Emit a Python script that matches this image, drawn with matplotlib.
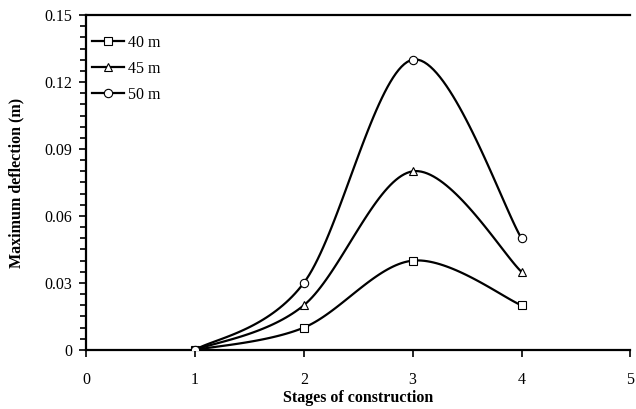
import numpy as np
import matplotlib
matplotlib.use("Agg")
import matplotlib.pyplot as plt
from matplotlib.ticker import MultipleLocator

# stages of construction and max deflection (m) for each span
stages = [1, 2, 3, 4]
d40 = [0.0, 0.010, 0.040, 0.020]
d45 = [0.0, 0.020, 0.080, 0.035]
d50 = [0.0, 0.030, 0.130, 0.050]
yticks = [0, 0.03, 0.06, 0.09, 0.12, 0.15]
ytick_labels = ['0', '0.03', '0.06', '0.09', '0.12', '0.15']

plt.rcParams['font.family'] = ['Liberation Serif', 'DejaVu Serif']
FS = 11.5


def smooth(xs, ys, n=40):
    # Excel-style smoothed line (Bezier through points, tension 1/6)
    pts = np.column_stack([np.asarray(xs, float), np.asarray(ys, float)])
    out = []
    for i in range(len(pts) - 1):
        p0 = pts[max(i - 1, 0)]
        p1 = pts[i]
        p2 = pts[i + 1]
        p3 = pts[min(i + 2, len(pts) - 1)]
        c1 = p1 + (p2 - p0) / 6
        c2 = p2 - (p3 - p1) / 6
        t = np.linspace(0, 1, n)[:, None]
        seg = ((1 - t) ** 3) * p1 + 3 * ((1 - t) ** 2) * t * c1 + 3 * (1 - t) * t ** 2 * c2 + t ** 3 * p2
        out.append(seg if i == 0 else seg[1:])
    out = np.vstack(out)
    return out[:, 0], out[:, 1]


fig = plt.figure(figsize=(6.36, 4.09), dpi=100)
ax = fig.add_axes([0.1352, 0.1443, 0.856, 0.819])

series = [(d40, 's', '40 m'), (d45, '^', '45 m'), (d50, 'o', '50 m')]
for ys, mk, lab in series:
    sx, sy = smooth(stages, ys)
    ax.plot(sx, sy, color='black', lw=1.6, zorder=2)
    ax.plot(stages, ys, linestyle='none', marker=mk, ms=6, mfc='white',
            mec='black', mew=0.8, zorder=3)
    ax.plot([], [], color='black', lw=1.6, marker=mk, ms=6, mfc='white',
            mec='black', mew=0.8, label=lab)

ax.set_xlim(0, 5)
ax.set_ylim(0, 0.15)
ax.xaxis.set_major_locator(MultipleLocator(1))
ax.set_yticks(yticks)
ax.set_yticklabels(ytick_labels)
ax.yaxis.set_minor_locator(MultipleLocator(0.005))
ax.tick_params(axis='both', which='major', direction='out', length=5, width=1.2,
               labelsize=FS, colors='black')
ax.tick_params(axis='y', which='minor', direction='out', length=4, width=1.2)
ax.tick_params(axis='y', pad=5)
ax.tick_params(axis='x', pad=11)

for s in ['left', 'bottom', 'top']:
    ax.spines[s].set_linewidth(1.6)
ax.spines['right'].set_visible(False)

ax.set_xlabel('Stages of construction', fontsize=FS, fontweight='bold', labelpad=1)
ax.set_ylabel('Maximum deflection (m)', fontsize=FS, fontweight='bold', labelpad=14)

ax.legend(loc='upper left', frameon=False, fontsize=FS, handlelength=2.0,
          handletextpad=0.25, labelspacing=0.62, borderaxespad=0.0,
          bbox_to_anchor=(0.0, 0.96))

fig.savefig('out.png', dpi=100)
